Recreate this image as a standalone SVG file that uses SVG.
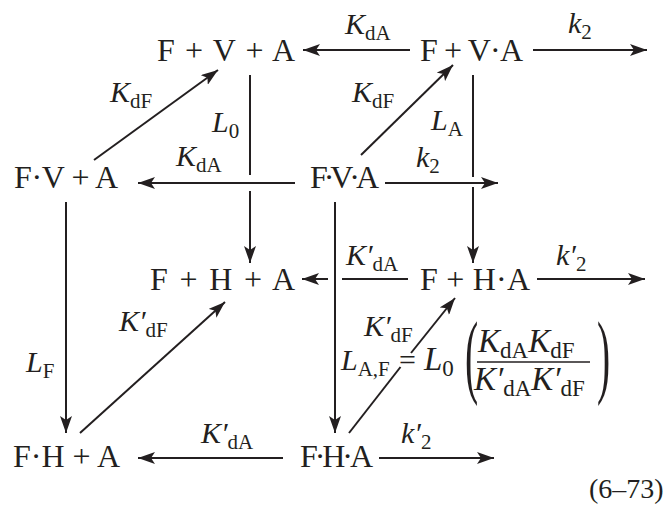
<svg xmlns="http://www.w3.org/2000/svg" width="671" height="506" viewBox="0 0 671 506">
<defs>
<style>
.m{font-family:"Liberation Serif","Times New Roman",serif;font-size:32px;fill:#231f20}
.l{font-family:"Liberation Serif","Times New Roman",serif;font-size:30px;font-style:italic;fill:#231f20}
.s{font-size:21px;font-style:normal}
.q{font-size:33px}
.q .s{font-size:23px}
.e{font-family:"Liberation Serif","Times New Roman",serif;font-size:30px;fill:#231f20}
.c line{stroke:#231f20;stroke-width:2;fill:none}
.a{marker-end:url(#ah)}
</style>
<marker id="ah" markerUnits="userSpaceOnUse" viewBox="0 0 17 12" refX="17" refY="6" markerWidth="17" markerHeight="12" orient="auto">
<path d="M17,6 L0,0 L4,6 L0,12 Z" fill="#231f20"/>
</marker>
</defs>
<rect width="671" height="506" fill="#ffffff"/>
<g id="connectors" class="c">
<line class="a" x1="410" y1="50" x2="303" y2="50"/>
<line class="a" x1="533" y1="50" x2="647" y2="50"/>
<line class="a" x1="94" y1="160" x2="218" y2="70"/>
<line class="a" x1="361" y1="155" x2="453" y2="65"/>
<line x1="250" y1="75" x2="250" y2="175"/>
<line class="a" x1="250" y1="191" x2="250" y2="263"/>
<line x1="473" y1="75" x2="473" y2="177"/>
<line class="a" x1="473" y1="187" x2="473" y2="263"/>
<line class="a" x1="295" y1="183" x2="138" y2="183"/>
<line class="a" x1="385" y1="183" x2="498" y2="183"/>
<line x1="408" y1="279" x2="342" y2="279"/>
<line class="a" x1="328" y1="279" x2="302" y2="279"/>
<line class="a" x1="537" y1="279" x2="645" y2="279"/>
<line class="a" x1="66" y1="202" x2="66" y2="433"/>
<line class="a" x1="335" y1="202" x2="335" y2="433"/>
<line class="a" x1="80" y1="433" x2="225" y2="302"/>
<line x1="349" y1="433" x2="400.5" y2="367"/>
<line class="a" x1="411" y1="353" x2="455" y2="298"/>
<line class="a" x1="283" y1="458" x2="138" y2="458"/>
<line class="a" x1="379" y1="458" x2="494" y2="458"/>
</g>
<g id="n-FpVpA"><text class="m" x="157" y="61" textLength="138" lengthAdjust="spacing">F + V + A</text></g>
<g id="n-FpVA"><text class="m" x="420" y="61" textLength="103" lengthAdjust="spacing">F + V·A</text></g>
<g id="n-FVpA"><text class="m" x="14" y="188" textLength="104" lengthAdjust="spacing">F·V + A</text></g>
<g id="n-FVA"><text class="m" x="310" y="188" textLength="69" lengthAdjust="spacing">F·V·A</text></g>
<g id="n-FpHpA"><text class="m" x="150" y="290" textLength="145" lengthAdjust="spacing">F + H + A</text></g>
<g id="n-FpHA"><text class="m" x="420" y="290" textLength="110" lengthAdjust="spacing">F + H·A</text></g>
<g id="n-FHpA"><text class="m" x="13" y="467" textLength="107" lengthAdjust="spacing">F·H + A</text></g>
<g id="n-FHA"><text class="m" x="300" y="467" textLength="73" lengthAdjust="spacing">F·H·A</text></g>
<g id="labels">
<text class="l" x="345" y="34">K<tspan class="s" dy="6">dA</tspan></text>
<text class="l" x="568" y="33">k<tspan class="s" dy="6">2</tspan></text>
<text class="l" x="110" y="102">K<tspan class="s" dy="6">dF</tspan></text>
<text class="l" x="352" y="102">K<tspan class="s" dy="6">dF</tspan></text>
<text class="l" x="212" y="132">L<tspan class="s" dy="6">0</tspan></text>
<text class="l" x="431" y="130">L<tspan class="s" dy="6">A</tspan></text>
<text class="l" x="176" y="166">K<tspan class="s" dy="6">dA</tspan></text>
<text class="l" x="416" y="167">k<tspan class="s" dy="6">2</tspan></text>
<text class="l" x="346" y="265">K′<tspan class="s" dy="6">dA</tspan></text>
<text class="l" x="556" y="265">k′<tspan class="s" dy="6">2</tspan></text>
<text class="l" x="119" y="331">K′<tspan class="s" dy="6">dF</tspan></text>
<text class="l" x="26" y="372">L<tspan class="s" dy="6">F</tspan></text>
<text class="l" x="364" y="336">K′<tspan class="s" dy="6">dF</tspan></text>
<text class="l" x="201" y="443">K′<tspan class="s" dy="6">dA</tspan></text>
<text class="l" x="401" y="443">k′<tspan class="s" dy="6">2</tspan></text>
</g>
<g id="equation">
<text class="l" x="341" y="370">L<tspan class="s" dy="6">A,F</tspan></text>
<text class="e" x="399" y="370">=</text>
<text class="l q" x="424" y="370">L<tspan class="s" dy="6">0</tspan></text>
<text class="e" x="0" y="0" style="font-size:94px" transform="translate(465,386) scale(0.42,1)">(</text>
<text class="l q" x="478" y="352">K<tspan class="s" dy="6">dA</tspan><tspan dy="-6">K</tspan><tspan class="s" dy="6">dF</tspan></text>
<line x1="477" y1="362" x2="590" y2="362" stroke="#231f20" stroke-width="1.5"/>
<text class="l q" x="474" y="390">K′<tspan class="s" dy="6">dA</tspan><tspan dy="-6">K′</tspan><tspan class="s" dy="6">dF</tspan></text>
<text class="e" x="0" y="0" style="font-size:94px" transform="translate(597,386) scale(0.42,1)">)</text>
</g>
<text class="e" x="589" y="498" style="font-size:28px">(6–73)</text>
</svg>
